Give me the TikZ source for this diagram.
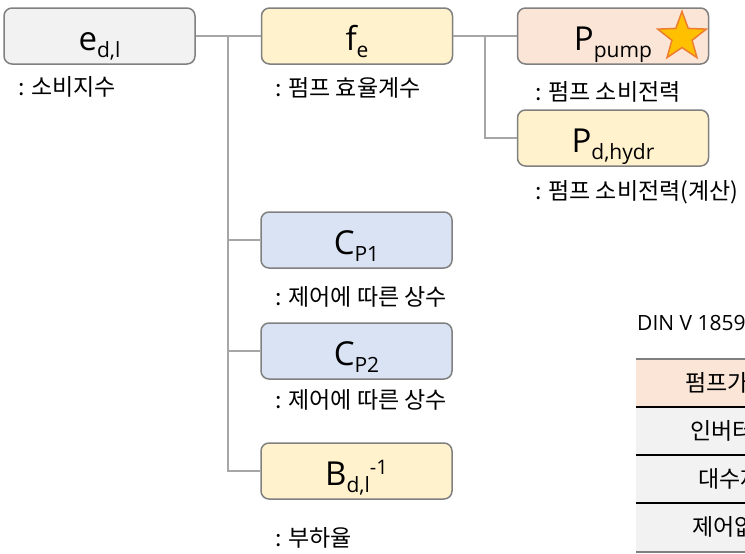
\documentclass[tikz,border=0pt]{standalone}
\usepackage{fontspec}
\setmainfont{Open Sans}
\newfontfamily\kr{Noto Sans CJK KR}
\usetikzlibrary{shapes.geometric}

\definecolor{boxline}{HTML}{808080}
\definecolor{connline}{HTML}{A6A6A6}
\definecolor{grayfill}{HTML}{F2F2F2}
\definecolor{yellowfill}{HTML}{FFF2CC}
\definecolor{peachfill}{HTML}{FBE5D6}
\definecolor{bluefill}{HTML}{DAE3F3}
\definecolor{stargold}{HTML}{FFC000}
\definecolor{starline}{HTML}{ED7D31}
\definecolor{tabgray}{HTML}{7F7F7F}

% main symbol with lowered subscript / raised superscript
\newcommand\sbs[1]{\raisebox{-7pt}{\fontsize{21}{21}\selectfont #1}}
\newcommand\sps[1]{\raisebox{11pt}{\fontsize{20}{20}\selectfont #1}}

\begin{document}
\begin{tikzpicture}[x=1pt,y=-1pt,
  varbox/.style={draw=boxline, line width=1.5pt, rounded corners=8pt,
    minimum width=191pt, minimum height=56pt, inner sep=0pt,
    text height=28pt, text depth=0pt,
    font=\fontsize{33}{33}\selectfont},
  conn/.style={draw=connline, line width=1.2pt},
  note/.style={anchor=west, inner sep=0pt, font=\kr\fontsize{23}{23}\selectfont},
  cell/.style={anchor=west, inner sep=0pt, font=\kr\fontsize{23}{23}\selectfont}]
\useasboundingbox (0,0) rectangle (745,554);
\clip (0,0) rectangle (745,554);

% variable boxes
\node[varbox, fill=grayfill]   (e)   at (99.5,36)  {e\sbs{d,l}};
\node[varbox, fill=yellowfill] (fe)  at (357,36)   {f\sbs{e}};
\node[varbox, fill=peachfill]  (pp)  at (613,36)   {P\sbs{pump}};
\node[varbox, fill=yellowfill] (pd)  at (613,138)  {P\sbs{d,hydr}};
\node[varbox, fill=bluefill]   (cp1) at (356.5,240) {C\sbs{P1}};
\node[varbox, fill=bluefill]   (cp2) at (356.5,351) {C\sbs{P2}};
\node[varbox, fill=yellowfill] (bd)  at (356.5,471) {B\sbs{d,l}\sps{-1}};

% star marker on the pump power box
\node[star, star points=5, star point ratio=2.4, minimum size=51pt, inner sep=0pt,
      fill=stargold, draw=starline, line width=1.5pt] (star) at (682,37) {};

% descriptions
\node[note] (ne)   at (18,87)   {: 소비지수};
\node[note] (nfe)  at (275,88)  {: 펌프 효율계수};
\node[note] (npp)  at (535,92)  {: 펌프 소비전력};
\node[note] (npd)  at (535,192) {: 펌프 소비전력(계산)};
\node[note] (ncp1) at (275,297) {: 제어에 따른 상수};
\node[note] (ncp2) at (275,400) {: 제어에 따른 상수};
\node[note] (nbd)  at (275,538) {: 부하율};

% tree connectors
\coordinate (j1) at (228,36);
\coordinate (j2) at (485,36);
\draw[conn] (e.east) -- (fe.west);
\draw[conn] (j1) |- (cp1.west);
\draw[conn] (j1) |- (cp2.west);
\draw[conn] (j1) |- (bd.west);
\draw[conn] (fe.east) -- (pp.west);
\draw[conn] (j2) |- (pd.west);

% control type table
\node[anchor=west, inner sep=0pt, font=\fontsize{21}{21}\selectfont] (din) at (637,323) {DIN V 18599};
\fill[peachfill] (636,359) rectangle (760,407);
\fill[grayfill] (636,407) rectangle (760,552);
\draw[tabgray, line width=2pt] (636,359) -- (760,359);
\draw[black, line width=1.2pt] (636,407) -- (760,407);
\draw[black, line width=1.2pt] (636,455) -- (760,455);
\draw[black, line width=1.2pt] (636,503) -- (760,503);
\draw[tabgray, line width=2pt] (636,552) -- (760,552);
\node[cell] (t0) at (685,383) {펌프가변속};
\node[cell] (t1) at (690,431) {인버터};
\node[cell] (t2) at (698,479) {대수제어};
\node[cell] (t3) at (692,527) {제어없음};
\end{tikzpicture}
\end{document}
